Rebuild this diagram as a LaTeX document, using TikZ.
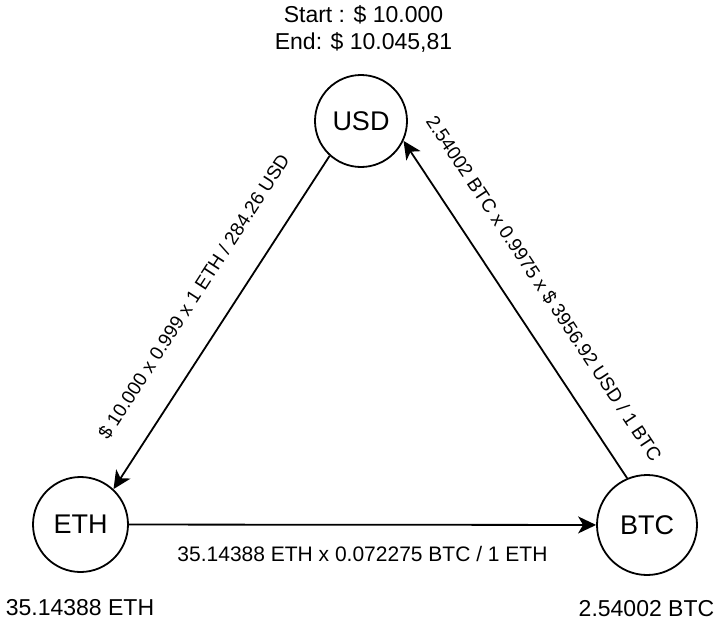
\documentclass[tikz,border=0pt]{standalone}
\usepackage{fontspec}
\setmainfont{Liberation Sans}
\usetikzlibrary{arrows.meta}

\begin{document}
\begin{tikzpicture}[x=1pt, y=-1pt,
    cur/.style={draw, circle, line width=1.8pt, inner sep=0pt, font=\fontsize{27}{32}\selectfont},
    arr/.style={-{Stealth[length=18pt, width=17pt, inset=5pt]}, line width=1.8pt},
    lbl/.style={inner sep=0pt, font=\fontsize{23}{27.6}\selectfont},
    rate/.style={inner sep=0pt, text height=13.6pt, text depth=0pt, font=\fontsize{19}{23}\selectfont},
]
\useasboundingbox (0,0) rectangle (718,621);

% Currencies
\node[cur, minimum size=92pt] (usd) at (361,121) {USD};
\node[cur, minimum size=95pt] (eth) at (80.5,524.5) {ETH};
\node[cur, minimum size=100pt] (btc) at (647,525) {BTC};

% Balances
\node[lbl, align=center, anchor=north] (bal) at (363.5,5) {Start : \$ 10.000\\End: \$ 10.045,81};
\node[lbl, anchor=base] (ethbal) at (80,615) {35.14388 ETH};
\node[lbl, anchor=base] (btcbal) at (646.5,616.5) {2.54002 BTC};

% Trades
\draw[arr] (usd.228) -- node[rate, pos=0.483, sloped, above=30pt] {\$ 10.000 x 0.999 x 1 ETH / 284.26 USD} (eth.47);
\draw[arr] (eth) -- node[rate, below=20.5pt, text height=15pt, font=\fontsize{21}{25}\selectfont] {35.14388 ETH x 0.072275 BTC / 1 ETH} (btc);
\draw[arr] (btc.113) -- node[rate, pos=0.504, sloped, above=28pt] {2.54002 BTC x 0.9975 x \$ 3956.92 USD / 1 BTC} (usd.-25);
\end{tikzpicture}
\end{document}
